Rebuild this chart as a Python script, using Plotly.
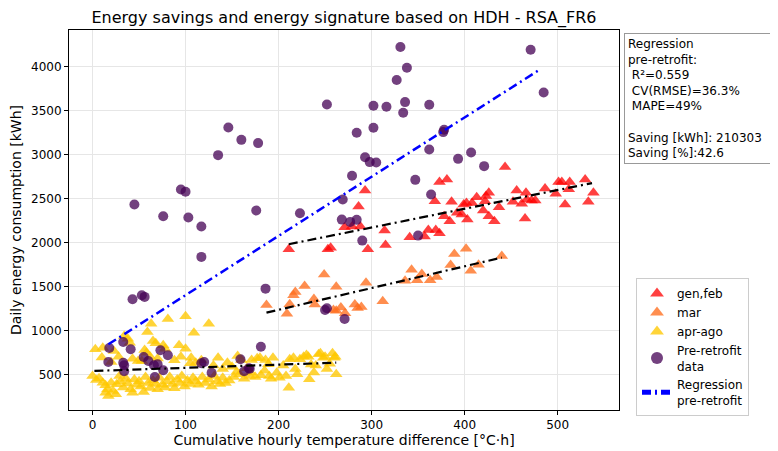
import plotly.graph_objects as go

# ---------------- data ----------------
pre_x = [146, 160, 135, 95, 100, 45, 76, 103, 117, 331, 338, 327, 252, 302, 316, 336, 334, 362,
         178, 284, 302, 293, 298, 305, 362, 347, 279, 269, 364, 176, 223, 268, 277, 284, 471, 485,
         378, 377, 407, 393, 421, 290, 350, 250, 252, 271, 186, 181, 169, 117, 43, 53, 56, 18,
         33, 41, 17, 33, 34, 34, 55, 60, 66, 70, 67, 73, 81, 76, 117, 120, 128, 159, 163, 168]
pre_y = [3306, 3166, 2992, 2601, 2575, 2430, 2298, 2282, 2180, 4221, 3986, 3846, 3568, 3553, 3542,
         3595, 3474, 3565, 3129, 3246, 3303, 2969, 2913, 2908, 3056, 2711, 2757, 2487, 2544, 2362,
         2332, 2259, 2233, 2256, 4191, 3705, 3280, 3254, 3022, 2950, 2867, 2020, 2077, 1232, 1251,
         1129, 1474, 814, 564, 1835, 1353, 1399, 1380, 799, 868, 785, 640, 632, 602, 534, 697, 651,
         602, 614, 469, 773, 716, 546, 625, 640, 518, 671, 534, 568]

red_x = [211, 253, 256, 271, 279, 288, 286, 293, 296, 314, 315, 341, 357, 361, 369, 373, 368, 373,
         381, 378, 384, 386, 392, 397, 399, 402, 403, 408, 413, 420, 422, 423, 426, 426, 432, 437,
         443.5, 452, 456, 461.5, 465, 466, 467, 472, 476, 486.5, 498, 501, 504.5, 508, 512, 513,
         529.6, 533, 538.5]
red_y = [1922, 1922, 1940, 2173, 2180, 2180, 2407, 2589, 1922, 2134, 1971, 2059, 2066, 2142, 2142,
         2104, 2469, 2688, 2714, 2298, 2241, 2461, 2336, 2316, 2430, 2449, 2259, 2449, 2514, 2362,
         2469, 2526, 2563, 2298, 2241, 2400, 2856, 2461, 2589, 2438, 2271, 2563, 2487, 2476, 2476,
         2612, 2552, 2688, 2688, 2430, 2605, 2688, 2714, 2461, 2563]

mar_x = [187, 209, 212, 216, 218, 228, 238, 239, 249, 262, 259, 262, 267, 271.5, 282, 285, 289,
         294, 312, 336, 343, 349, 354, 363, 370, 385, 389, 401.6, 406.6, 415, 440]
mar_y = [1287, 1188, 1297, 1400, 1435, 1505, 1355, 1293, 1635, 1496, 1232, 1222, 1260, 1194, 1293,
         1253, 1264, 1542, 1330, 1563, 1690, 1568, 1640, 1568, 1606, 1742, 1868, 1928, 1676, 1745,
         1846]

apr_x = [3, 11, 23, 34, 38, 40, 56, 58, 59, 63, 65, 68, 76, 78, 81, 93, 100, 100, 109, 125,
         10, 20, 28, 43, 49, 53, 62, 70, 88, 95, 106, 111, 105, 117, 135, 145, 156, 130, 140,
         0, 4, 7, 11, 14, 16, 20, 22, 26, 14, 17, 25, 29, 30, 33, 36, 38, 41, 43, 45, 48, 50, 52,
         55, 57, 60, 62, 65, 68, 70, 72, 75, 78, 80, 83, 86, 88, 91, 94, 96, 99, 102, 105, 108,
         111, 114, 118, 121, 125, 128, 131, 134, 137, 140, 143, 147,
         150, 155, 160, 166, 171, 177, 169, 180, 181, 186, 189, 190, 194, 198, 201, 211, 212, 216,
         223, 227, 230, 232, 233, 243, 245, 248, 250, 258, 260, 261, 262,
         152, 158, 163, 170, 175, 185, 192, 205, 208, 218, 220, 238, 240, 252, 255, 235]
apr_y = [785, 803, 765, 936, 905, 860, 776, 746, 980, 1074, 879, 853, 830, 791, 1130, 830, 791,
         1160, 973, 1076,
         690, 640, 700, 678, 651, 651, 700, 680, 660, 700, 689, 632, 625, 659, 689, 632, 708, 600,
         560,
         481, 435, 454, 405, 375, 329, 405, 310, 386, 291, 253, 272, 480, 420, 350, 450, 395, 330,
         290, 440, 380, 420, 360, 300, 470, 400, 345, 430, 390, 330, 460, 380, 350, 420, 470, 390,
         340, 440, 400, 480, 360, 430, 390, 460, 420, 380, 470, 400, 440, 360, 480, 420, 390, 460,
         400, 430,
         586, 530, 663, 568, 663, 682, 481, 689, 489, 663, 614, 481, 689, 518, 461, 347, 671, 689,
         671, 700, 720, 700, 443, 728, 739, 689, 700, 739, 689, 700, 500,
         470, 500, 450, 520, 470, 540, 450, 600, 480, 560, 500, 520, 600, 560, 620, 610]

# regression lines (end points)
reg_pre_x = [17, 481]
reg_pre_y = [841, 3966]
reg_red_x = [211, 537]
reg_red_y = [1979, 2674]
reg_mar_x = [187, 440]
reg_mar_y = [1201, 1827]
reg_apr_x = [2, 262]
reg_apr_y = [538, 632]

x_ticks = [0, 100, 200, 300, 400, 500]
y_ticks = [500, 1000, 1500, 2000, 2500, 3000, 3500, 4000]

title = "Energy savings and energy signature based on HDH - RSA_FR6"
stats_text = ("Regression<br>pre-retrofit:<br>\u00a0R²=0.559<br>\u00a0CV(RMSE)=36.3%<br>"
              "\u00a0MAPE=49%<br><br>Saving [kWh]: 210303<br>Saving [%]:42.6")

# ---------------- figure ----------------
# the page body has an 8px margin, so the figure is laid out 8px smaller
OFF = 8
FONT = "DejaVu Sans"
W, H = 778 - OFF, 451 - OFF
L, T = 69 - OFF, 30 - OFF
pw, ph = 550, 380
R, B = W - L - pw, H - T - ph


def px_x(sx):
    return (sx - OFF - L) / pw


def px_y(sy):
    return (T + ph - (sy - OFF)) / ph


fig = go.Figure()

tri = dict(symbol="triangle-up", size=11, line=dict(width=0))

fig.add_trace(go.Scatter(x=apr_x, y=apr_y, mode="markers", name="apr-ago",
                         marker=dict(color="rgba(255,200,0,0.78)", **tri)))
fig.add_trace(go.Scatter(x=mar_x, y=mar_y, mode="markers", name="mar",
                         marker=dict(color="rgba(255,110,30,0.78)", **tri)))
fig.add_trace(go.Scatter(x=red_x, y=red_y, mode="markers", name="gen,feb",
                         marker=dict(color="rgba(255,0,0,0.75)", **tri)))
fig.add_trace(go.Scatter(x=pre_x, y=pre_y, mode="markers", name="Pre-retrofit<br>data",
                         marker=dict(color="rgba(68,1,84,0.75)", size=10, symbol="circle",
                                     line=dict(width=0))))

blk = dict(color="black", width=2.2, dash="9px,4px,2px,4px")
for xs, ys in [(reg_red_x, reg_red_y), (reg_mar_x, reg_mar_y), (reg_apr_x, reg_apr_y)]:
    fig.add_trace(go.Scatter(x=xs, y=ys, mode="lines", line=blk, showlegend=False,
                             hoverinfo="skip"))

fig.add_trace(go.Scatter(x=reg_pre_x, y=reg_pre_y, mode="lines", name="Regression<br>pre-retrofit",
                         line=dict(color="blue", width=2.5, dash="9px,4px,2px,4px")))

order = {"gen,feb": 1, "mar": 2, "apr-ago": 3, "Pre-retrofit<br>data": 4, "Regression<br>pre-retrofit": 5}
for tr in fig.data:
    if tr.name in order:
        tr.legendrank = order[tr.name]

axis_common = dict(showline=True, linecolor="black", linewidth=1, mirror=True,
                   ticks="outside", ticklen=4, tickcolor="black", automargin=False,
                   showgrid=True, gridcolor="#e6e6e6", gridwidth=1, zeroline=False,
                   tickfont=dict(family=FONT, size=12, color="black"))

fig.update_layout(
    width=W, height=H,
    margin=dict(l=L, r=R, t=T, b=B, autoexpand=False),
    paper_bgcolor="white", plot_bgcolor="white",
    font=dict(family=FONT, color="black"),
    title=dict(text=title, x=(L + pw / 2) / W, xanchor="center", y=1 - 4 / H, yanchor="top",
               font=dict(family=FONT, size=16, color="black")),
    xaxis=dict(range=[-25.3, 566], tickvals=x_ticks,
               title=dict(text="Cumulative hourly temperature difference [°C·h]",
                          font=dict(family=FONT, size=14), standoff=3),
               **axis_common),
    yaxis=dict(range=[94, 4415], tickvals=y_ticks,
               title=dict(text="Daily energy consumption [kWh]",
                          font=dict(family=FONT, size=14), standoff=6),
               **axis_common),
    legend=dict(x=px_x(636), y=px_y(278), xanchor="left", yanchor="top",
                bordercolor="#cccccc", borderwidth=1, bgcolor="white",
                font=dict(family=FONT, size=12), tracegroupgap=0, itemsizing="constant",
                itemwidth=30),
    showlegend=True,
)

fig.add_annotation(text=stats_text, xref="paper", yref="paper",
                   x=px_x(624), y=px_y(33),
                   xanchor="left", yanchor="top", showarrow=False, align="left",
                   width=144,
                   font=dict(family=FONT, size=12, color="black"),
                   bordercolor="#999999", borderwidth=1, borderpad=3, bgcolor="white")

fig.write_html("out.html")
